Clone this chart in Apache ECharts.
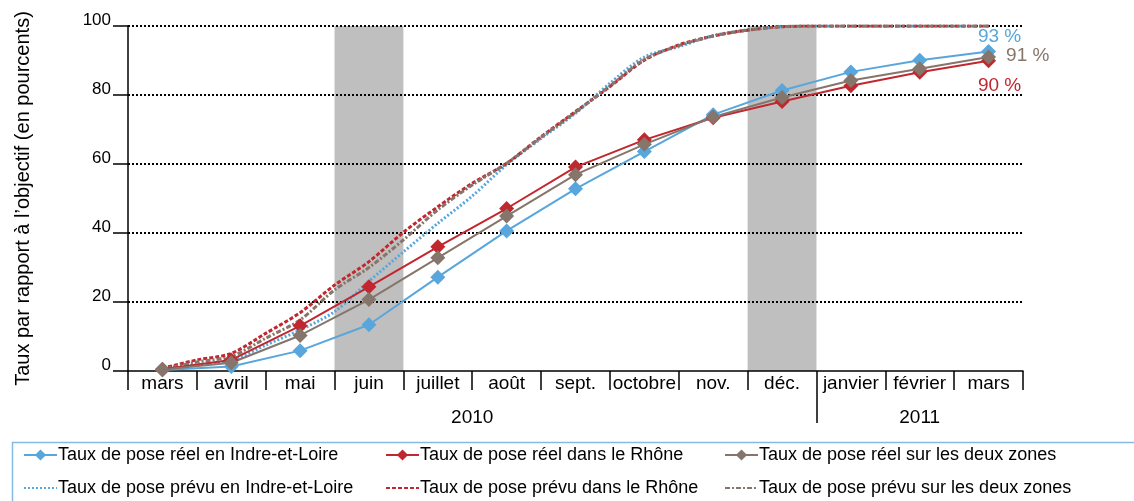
<!DOCTYPE html>
<html>
<head>
<meta charset="utf-8">
<script src="https://cdn.jsdelivr.net/npm/echarts@6/dist/echarts.min.js"></script>
<style>html,body{margin:0;padding:0;background:#fff;}#c{width:1134px;height:501px;}</style>
</head>
<body>
<div id="c"></div>
<script>
// ---- data ----
const months = ['mars','avril','mai','juin','juillet','août','sept.','octobre','nov.','déc.','janvier','février','mars'];
const years = ['2010','2011'];
const yearMonthCounts = [10, 3];
const shadedMonths = [3, 9]; // juin, déc.
const yTicks = [0, 20, 40, 60, 80, 100];

// real, one value per month
const reelIndre = [0.3, 1.3, 5.9, 13.4, 27.2, 40.6, 52.8, 63.6, 74.3, 81.3, 86.7, 90.1, 92.6];
const reelRhone = [0.5, 3.2, 13.1, 24.4, 36.0, 47.1, 59.1, 67.0, 73.4, 78.1, 82.7, 86.6, 89.9];
const reelDeux  = [0.4, 2.4, 10.3, 20.7, 32.8, 44.9, 56.9, 65.7, 73.6, 79.3, 84.2, 87.6, 91.0];

// planned, two values per month (mid-month and month end), from mars 2010 to mars 2011
const prevuIndre = [0.3, 1.8, 3.0, 7.5, 11.9, 17.2, 26.0, 34.5, 42.8, 50.7, 59.8, 67.4, 74.7, 83.4, 91.0, 94.0, 97.2, 98.9, 99.8, 100, 100, 100, 100, 100, 100];
const prevuRhone = [0.8, 3.2, 5.1, 10.9, 16.9, 24.9, 31.7, 40.2, 47.6, 54.4, 60.2, 67.9, 75.2, 82.4, 90.1, 94.5, 97.1, 98.8, 99.8, 100, 100, 100, 100, 100, 100];
const prevuDeux  = [0.5, 2.6, 4.2, 9.5, 14.8, 23.5, 30.0, 38.0, 46.7, 53.9, 60.2, 67.7, 75.0, 82.6, 90.3, 94.3, 97.1, 98.8, 99.8, 100, 100, 100, 100, 100, 100];

const names = {
  ri: 'Taux de pose réel en Indre-et-Loire',
  rr: 'Taux de pose réel dans le Rhône',
  rd: 'Taux de pose réel sur les deux zones',
  pi: 'Taux de pose prévu en Indre-et-Loire',
  pr: 'Taux de pose prévu dans le Rhône',
  pd: 'Taux de pose prévu sur les deux zones'
};

const BLUE = '#58A6DB', RED = '#C1272E', BROWN = '#86756B';
const FONT = 'Liberation Sans, Arial, sans-serif';
const Y_MAX = yTicks[yTicks.length - 1];
const GRID_STYLE = { color: '#000', width: 2, type: [2, 2] };

function monthlyPts(arr, lab) {
  return arr.map((v, i) => {
    const d = { value: [i + 0.5, v] };
    if (i === arr.length - 1 && lab) {
      d.label = Object.assign({ show: true, formatter: Math.round(v) + ' %', fontFamily: FONT, fontSize: 19 }, lab);
    }
    return d;
  });
}
function halfPts(arr) { return arr.map((v, i) => [i * 0.5 + 0.5, v]); }

const yearCenters = [], yearSeps = [];
let acc = 0;
yearMonthCounts.forEach((n, k) => {
  yearCenters.push(acc + n / 2);
  acc += n;
  if (k < yearMonthCounts.length - 1) yearSeps.push(acc);
});
const monthBounds = months.map((_, i) => i).concat([months.length]);
const bandValues = months.map((_, i) => shadedMonths.indexOf(i) >= 0 ? Y_MAX : '-');

function realSeries(name, data, color, lab) {
  return {
    name, type: 'line', xAxisIndex: 0, yAxisIndex: 0, z: 6,
    data: monthlyPts(data, Object.assign({ color }, lab)),
    symbol: 'diamond', symbolSize: 15,
    lineStyle: { color, width: 2 }, itemStyle: { color },
    label: { show: false }
  };
}
function plannedSeries(name, data, color, dash) {
  return {
    name, type: 'line', xAxisIndex: 0, yAxisIndex: 0, z: 5,
    data: halfPts(data), symbol: 'none', smooth: 0.3,
    lineStyle: { color, width: 3, type: dash }, itemStyle: { color }
  };
}
// dotted horizontal gridlines, drawn as series so they sit above the grey bands
const gridSeries = yTicks.slice(1).map(v => ({
  name: '_grid' + v, type: 'line', xAxisIndex: 0, yAxisIndex: 0, z: 4, silent: true,
  data: [[0, v], [months.length, v]], symbol: 'none',
  lineStyle: GRID_STYLE, itemStyle: { color: '#000' }
}));

const legendText = { fontSize: 18, color: '#000', fontFamily: FONT, padding: [0, 0, 0, -4] };
function legendCol(left, a, b) {
  return {
    left, top: 446, orient: 'vertical', padding: 0, itemGap: 15, itemWidth: 33, itemHeight: 14,
    textStyle: legendText,
    data: [{ name: a }, { name: b, itemStyle: { opacity: 0 } }]
  };
}

const chart = echarts.init(document.getElementById('c'));
chart.setOption({
  animation: false,
  backgroundColor: '#fff',
  textStyle: { fontFamily: FONT },
  grid: { left: 128, right: 111, top: 26, bottom: 130 },
  xAxis: [
    {
      type: 'value', min: 0, max: months.length, position: 'bottom',
      axisLine: { show: false }, splitLine: { show: false }, axisLabel: { show: false },
      axisTick: { show: true, customValues: monthBounds, length: 19, lineStyle: { color: '#000', width: 1.5 } }
    },
    {
      type: 'category', data: months, boundaryGap: true, position: 'bottom', z: 3,
      axisLine: { lineStyle: { color: '#000', width: 1.5 } },
      axisTick: { show: false },
      axisLabel: { interval: 0, margin: 3, color: '#000', fontSize: 19, fontFamily: FONT },
      splitLine: { show: false }
    },
    {
      type: 'value', min: 0, max: months.length, position: 'bottom',
      axisLine: { show: false }, splitLine: { show: false },
      axisTick: { show: true, customValues: yearSeps, length: 52, lineStyle: { color: '#000', width: 1.5 } },
      axisLabel: {
        customValues: yearCenters, margin: 37, color: '#000', fontSize: 19, fontFamily: FONT,
        formatter: (v) => { const k = yearCenters.indexOf(v); return k >= 0 ? years[k] : ''; }
      }
    }
  ],
  yAxis: {
    type: 'value', min: yTicks[0], max: Y_MAX, interval: 20, z: 3,
    name: 'Taux par rapport à l\u2019objectif (en pourcents)', nameLocation: 'middle', nameGap: 95,
    nameTextStyle: { color: '#000', fontSize: 20, fontFamily: FONT },
    axisLine: { show: true, lineStyle: { color: '#000', width: 1.5 } },
    axisTick: { show: true, length: 15, lineStyle: { color: '#000', width: 1.5 } },
    axisLabel: { color: '#000', fontSize: 17, fontFamily: FONT, margin: 17, verticalAlign: 'bottom', lineHeight: 12 },
    splitLine: { show: false }
  },
  legend: [
    legendCol(23, names.ri, names.pi),
    legendCol(385, names.rr, names.pr),
    legendCol(724, names.rd, names.pd)
  ],
  graphic: [{
    type: 'rect', left: 10, top: 440, shape: { width: 1140, height: 80 },
    style: { fill: 'none', stroke: '#86B9E3', lineWidth: 1.5 }, silent: true, z: -1
  }],
  series: [
    {
      name: '_bands', type: 'bar', xAxisIndex: 1, yAxisIndex: 0, z: 1, silent: true,
      data: bandValues, barWidth: '100%', barGap: '0%',
      itemStyle: { color: '#BFBFBF' }
    }
  ].concat(gridSeries).concat([
    plannedSeries(names.pi, prevuIndre, BLUE, [2, 2]),
    plannedSeries(names.pr, prevuRhone, RED, [4, 2]),
    plannedSeries(names.pd, prevuDeux, BROWN, [5, 2, 2, 2]),
    realSeries(names.ri, reelIndre, BLUE, { position: 'top', distance: 1, offset: [11, 3] }),
    realSeries(names.rr, reelRhone, RED, { position: 'bottom', distance: 4, offset: [11, 4] }),
    realSeries(names.rd, reelDeux, BROWN, { position: 'right', distance: 10, offset: [0, -1] })
  ])
});
</script>
</body>
</html>
